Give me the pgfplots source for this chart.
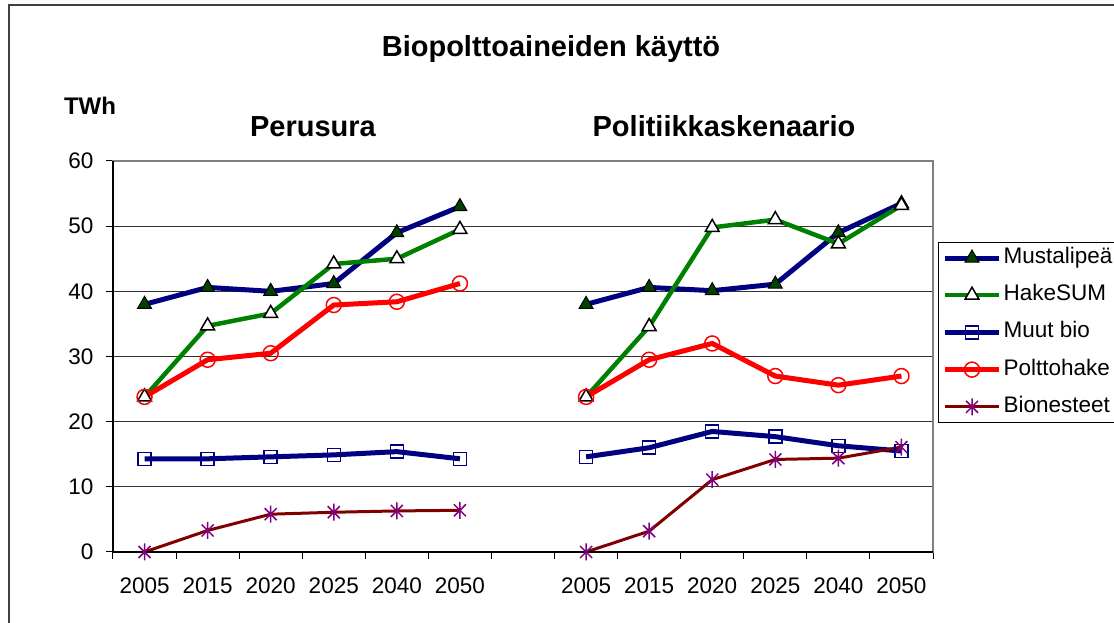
\documentclass[border=0pt]{standalone}
\usepackage{fontspec}
\setmainfont{Liberation Sans}
\usepackage{pgfplots}
\pgfplotsset{compat=1.18}
\definecolor{navyc}{RGB}{0,0,128}
\definecolor{greenc}{RGB}{0,128,0}
\definecolor{dgreen}{RGB}{0,64,0}
\definecolor{redc}{RGB}{255,0,0}
\definecolor{dred}{RGB}{128,0,0}
\definecolor{purplec}{RGB}{128,0,128}
\pgfdeclareplotmark{xstar}{%
  \pgfpathmoveto{\pgfqpoint{0pt}{\pgfplotmarksize}}%
  \pgfpathlineto{\pgfqpoint{0pt}{-\pgfplotmarksize}}%
  \pgfpathmoveto{\pgfqpoint{-0.7071\pgfplotmarksize}{0.7071\pgfplotmarksize}}%
  \pgfpathlineto{\pgfqpoint{0.7071\pgfplotmarksize}{-0.7071\pgfplotmarksize}}%
  \pgfpathmoveto{\pgfqpoint{-0.7071\pgfplotmarksize}{-0.7071\pgfplotmarksize}}%
  \pgfpathlineto{\pgfqpoint{0.7071\pgfplotmarksize}{0.7071\pgfplotmarksize}}%
  \pgfusepathqstroke}
\begin{document}
\begin{tikzpicture}
\useasboundingbox (0pt,0pt) rectangle (1114pt,623pt);
\draw[line width=2pt, black!75] (9pt,0pt) -- (9pt,618pt) -- (1114pt,618pt);
\node[font=\bfseries\fontsize{29}{33}\selectfont, anchor=base] at (551pt,566pt) {Biopolttoaineiden käyttö};
\node[font=\bfseries\fontsize{29}{33}\selectfont, anchor=base] at (313pt,486pt) {Perusura};
\node[font=\bfseries\fontsize{29}{33}\selectfont, anchor=base] at (724pt,486pt) {Politiikkaskenaario};
\node[font=\bfseries\fontsize{24}{28}\selectfont, anchor=base] at (90pt,508pt) {TWh};
\begin{axis}[
  at={(113pt,71pt)}, anchor=south west,
  scale only axis, width=820pt, height=391pt,
  xmin=-0.5, xmax=12.5, ymin=0, ymax=60,
  ytick={0,10,...,60},
  xtick={0,1,2,3,4,5,7,8,9,10,11,12},
  xticklabels={2005,2015,2020,2025,2040,2050,2005,2015,2020,2025,2040,2050},
  minor xtick={-0.5,0.5,...,12.5},
  xtick pos=lower, ytick pos=left,
  tick align=outside,
  major tick length=7pt, minor tick length=7pt,
  every major x tick/.append style={draw=none},
  every tick/.append style={black, line width=1pt},
  ymajorgrids,
  grid style={black!80, line width=1pt},
  axis line style={black!50, line width=1.5pt},
  ticklabel style={font=\fontsize{22.5}{26}\selectfont},
  /pgf/number format/assume math mode=true,
  yticklabel style={xshift=-9pt},
  xticklabel style={yshift=-15pt},
  unbounded coords=jump,
  clip=false,
  legend style={at={(1.0061,0.7928)}, anchor=north west, draw=black, line width=1pt,
    fill=white, inner sep=4pt, row sep=14.2pt, font=\fontsize{22.5}{26}\selectfont,
    nodes={inner sep=2pt, text height=15pt, text depth=4pt}},
  legend cell align=left,
  legend image code/.code={\draw[mark repeat=2,mark phase=2,#1] plot coordinates {(0pt,0pt)(27pt,0pt)(54pt,0pt)};},
]
\addplot[navyc, line width=5pt, mark=triangle*, mark size=8pt,
  mark options={solid, draw=black, line width=1pt, fill=dgreen}]
  coordinates {(0,38)(1,40.6)(2,40)(3,41.2)(4,49)(5,53)(6,nan)(7,38)(8,40.6)(9,40.1)(10,41.1)(11,49)(12,53.5)};
\addlegendentry{Mustalipeä}
\addplot[greenc, line width=4.5pt, mark=triangle*, mark size=8pt,
  mark options={solid, draw=black, line width=1.5pt, fill=white}]
  coordinates {(0,23.8)(1,34.7)(2,36.6)(3,44.2)(4,45)(5,49.5)(6,nan)(7,23.8)(8,34.6)(9,49.8)(10,51)(11,47.3)(12,53.2)};
\addlegendentry{HakeSUM}
\addplot[navyc, line width=5pt, mark=square, mark size=6.5pt,
  mark options={solid, draw=navyc, line width=1.5pt}]
  coordinates {(0,14.3)(1,14.3)(2,14.6)(3,14.9)(4,15.4)(5,14.3)(6,nan)(7,14.6)(8,16)(9,18.5)(10,17.7)(11,16.3)(12,15.5)};
\addlegendentry{Muut bio}
\addplot[redc, line width=5pt, mark=o, mark size=7.5pt,
  mark options={solid, draw=redc, line width=1.5pt}]
  coordinates {(0,23.8)(1,29.5)(2,30.5)(3,37.9)(4,38.4)(5,41.2)(6,nan)(7,23.8)(8,29.5)(9,32)(10,27)(11,25.6)(12,27)};
\addlegendentry{Polttohake}
\addplot[dred, line width=3pt, mark=xstar, mark size=8.5pt,
  mark options={solid, draw=purplec, line width=1.5pt}]
  coordinates {(0,0)(1,3.3)(2,5.8)(3,6.1)(4,6.3)(5,6.4)(6,nan)(7,0)(8,3.2)(9,11.1)(10,14.2)(11,14.4)(12,16.1)};
\addlegendentry{Bionesteet}
\draw[black, line width=1.5pt] (rel axis cs:0,1) -- (rel axis cs:0,0) -- (rel axis cs:1,0);
\end{axis}
\end{tikzpicture}
\end{document}
